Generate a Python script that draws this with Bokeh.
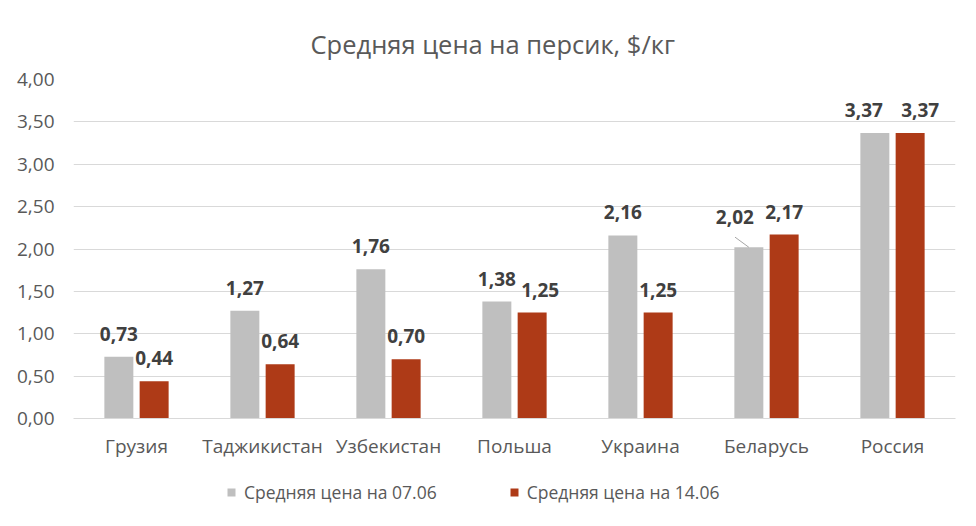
from bokeh.plotting import figure
from bokeh.layouts import column
from bokeh.models import ColumnDataSource, Range1d, Legend, LegendItem, CustomJSTickFormatter
from bokeh.transform import dodge
from bokeh.core.properties import value
from bokeh.embed import file_html
from bokeh.resources import INLINE

countries = ["Грузия", "Таджикистан", "Узбекистан", "Польша", "Украина", "Беларусь", "Россия"]
price_0706 = [0.73, 1.27, 1.76, 1.38, 2.16, 2.02, 3.37]
price_1406 = [0.44, 0.64, 0.70, 1.25, 1.25, 2.17, 3.37]
series_names = ["Средняя цена на 07.06", "Средняя цена на 14.06"]
title_text = "Средняя цена на персик, $/кг"

FONT = "Open Sans"
GREY = "#BFBFBF"
RED = "#AE3A17"
TXT = "#595959"
LBL = "#404040"

def fmt(v):
    return f"{v:.2f}".replace(".", ",")

# label nudges (Беларусь 07.06 label sits up-left with a leader line; crowded pairs spread apart)
xoa = [-14 if c == "Беларусь" else (-11 if c == "Россия" else 0) for c in countries]
yoa = [-23 if c == "Беларусь" else -16 for c in countries]
xob = [10 if c == "Россия" else (8 if c == "Польша" else 0) for c in countries]

src = ColumnDataSource(dict(
    country=countries,
    a=price_0706,
    b=price_1406,
    la=[fmt(v) for v in price_0706],
    lb=[fmt(v) for v in price_1406],
    xoa=xoa,
    yoa=yoa,
    xob=xob,
))

p = figure(x_range=countries, y_range=Range1d(0, 4), width=976, height=463,
           output_backend="svg", toolbar_location=None,
           min_border_left=73, min_border_right=21, min_border_top=79, min_border_bottom=45)
p.outline_line_color = None

p.title.text = title_text
p.title.align = "left"
p.title.offset = 237
p.title.text_font = FONT
p.title.text_font_size = "25.5px"
p.title.text_font_style = "normal"
p.title.text_color = TXT
p.title.standoff = 38

W = 0.23
D = 0.14
r1 = p.vbar(x=dodge("country", -D, range=p.x_range), top="a", width=W, source=src,
            fill_color=GREY, line_color=None)
r2 = p.vbar(x=dodge("country", D, range=p.x_range), top="b", width=W, source=src,
            fill_color=RED, line_color=None)

p.text(x=dodge("country", -D, range=p.x_range), y="a", text="la", source=src,
       x_offset="xoa", y_offset="yoa",
       text_align="center", text_baseline="bottom", text_font=value(FONT),
       text_font_size="19px", text_font_style="bold", text_color=LBL)
p.text(x=dodge("country", D, range=p.x_range), y="b", text="lb", source=src,
       x_offset="xob", y_offset=-16,
       text_align="center", text_baseline="bottom", text_font=value(FONT),
       text_font_size="19px", text_font_style="bold", text_color=LBL)

# leader line for the moved label
bi = countries.index("Беларусь")
lsrc = ColumnDataSource(dict(x=[countries[bi]], y=[price_0706[bi]], y0=[price_0706[bi] + 0.12]))
p.segment(x0=dodge("x", -D - 0.11, range=p.x_range), y0="y0",
          x1=dodge("x", -D, range=p.x_range), y1="y", source=lsrc,
          line_color="#A6A6A6", line_width=1)

p.xgrid.grid_line_color = None
p.ygrid.grid_line_color = "#D9D9D9"
p.ygrid.grid_line_width = 1
p.yaxis.ticker = [0, 0.5, 1, 1.5, 2, 2.5, 3, 3.5, 4]
p.yaxis.formatter = CustomJSTickFormatter(code="return tick.toFixed(2).replace('.', ',');")
p.yaxis.axis_line_color = None
p.yaxis.major_tick_line_color = None
p.yaxis.minor_tick_line_color = None
p.yaxis.major_label_text_font = FONT
p.yaxis.major_label_text_font_size = "19px"
p.yaxis.major_label_text_color = TXT
p.yaxis.major_label_standoff = 13

p.xaxis.axis_line_color = "#D9D9D9"
p.xaxis.major_tick_line_color = None
p.xaxis.minor_tick_line_color = None
p.xaxis.major_label_text_font = FONT
p.xaxis.major_label_text_font_size = "19px"
p.xaxis.major_label_text_color = TXT
p.xaxis.major_label_standoff = 8
p.x_range.range_padding = 0

# legend strip below the chart
lf = figure(x_range=countries, y_range=Range1d(10, 11), width=976, height=63,
            output_backend="svg", toolbar_location=None,
            min_border_left=0, min_border_right=0, min_border_top=0, min_border_bottom=0)
lf.axis.visible = False
lf.grid.grid_line_color = None
lf.outline_line_color = None
lr1 = lf.vbar(x=dodge("country", -D, range=lf.x_range), top="a", width=W, source=src,
              fill_color=GREY, line_color=None)
lr2 = lf.vbar(x=dodge("country", D, range=lf.x_range), top="b", width=W, source=src,
              fill_color=RED, line_color=None)
legend = Legend(items=[LegendItem(label=series_names[0], renderers=[lr1]),
                       LegendItem(label=series_names[1], renderers=[lr2])],
                orientation="horizontal", location=(153, 22))
legend.label_text_font = FONT
legend.label_text_font_size = "17.5px"
legend.label_text_color = TXT
legend.glyph_width = 10
legend.glyph_height = 10
legend.label_standoff = 8
legend.spacing = 72
legend.padding = 10
legend.border_line_color = None
legend.background_fill_alpha = 0
lf.add_layout(legend, "center")

layout = column(p, lf, spacing=0)
open("out.html", "w").write(file_html(layout, INLINE))
